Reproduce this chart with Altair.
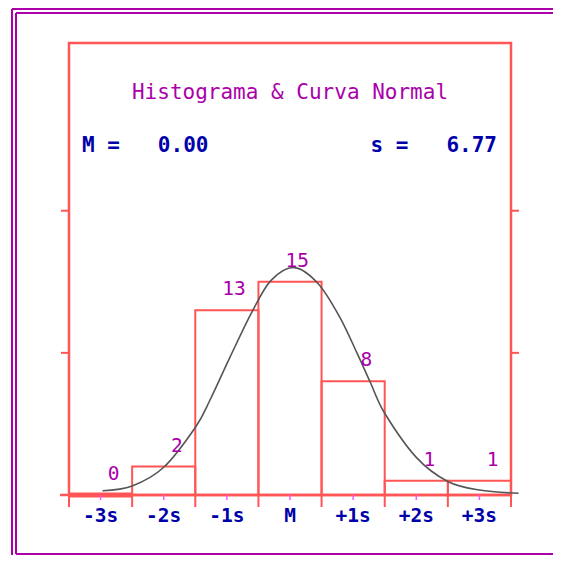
import altair as alt
import pandas as pd

# ---------------- data ----------------
CATEGORIES = ["-3s", "-2s", "-1s", "M", "+1s", "+2s", "+3s"]
SD_CENTERS = [-3, -2, -1, 0, 1, 2, 3]          # bin centres in sd units
COUNTS = [0, 2, 13, 15, 8, 1, 1]
Y_TICKS = [10, 20]
CURVE_Z = [-2.97, -2.5, -2.0, -1.5, -1.265, -0.95, -0.6, -0.3, 0.07,
           0.45, 0.79, 1.06, 1.27, 1.5, 2.0, 2.5, 3.0, 3.62]
CURVE_COUNT = [0.3, 0.63, 1.95, 4.75, 6.7, 9.7, 12.9, 15.1, 16.0,
               14.85, 12.5, 10.0, 7.95, 5.75, 2.65, 0.95, 0.35, 0.12]
TITLE = "Histograma & Curva Normal"
MEAN_TEXT = "M =\u00a0\u00a0\u00a00.00"
SD_TEXT = "s =\u00a0\u00a0\u00a06.77"

# ---------------- styling ----------------
MAGENTA = "#AA00AA"
LMAGENTA = "#FF55FF"
BLUE = "#0000AA"
RED = "#FF5555"
GRAY = "#555555"
FONT = "DejaVu Sans Mono"
W, H = 442, 452

bins = pd.DataFrame({
    "cat": CATEGORIES,
    "center": SD_CENTERS,
    "count": COUNTS,
})
bins["lo"] = bins["center"] - 0.5
bins["hi"] = bins["center"] + 0.5
bins["base"] = 0
edges = pd.DataFrame({"edge": [c - 0.5 for c in SD_CENTERS] + [SD_CENTERS[-1] + 0.5]})
yt = pd.DataFrame({"v": Y_TICKS})
curve = pd.DataFrame({"z": CURVE_Z, "n": CURVE_COUNT})
one = pd.DataFrame({"base": [0]})

xs = alt.Scale(domain=[-3.5, 3.5], nice=False, zero=False)
ys = alt.Scale(domain=[0, 31.8], nice=False, zero=False)


def X(f):
    return alt.X(f, type="quantitative", scale=xs, axis=None)


def Y(f):
    return alt.Y(f, type="quantitative", scale=ys, axis=None)


def frame_line(x1, x2, y1, y2):
    return alt.Chart(one).mark_rule(color=MAGENTA, strokeWidth=2).encode(
        x=alt.value(x1), x2=alt.value(x2), y=alt.value(y1), y2=alt.value(y2))


frame = (
    frame_line(-57, 484, -34, -34)
    + frame_line(-53, 484, -30, -30)
    + frame_line(-57, -57, -34, 513)
    + frame_line(-53, -53, -30, 511)
    + frame_line(-53, 484, 511, 511)
)

bars = alt.Chart(bins).mark_rect(filled=False, color=RED, strokeWidth=2).encode(
    x=X("lo"), x2="hi", y=Y("base"), y2="count")

baseline = alt.Chart(one).mark_rule(color=RED, strokeWidth=2.5).encode(
    x=alt.value(-9), x2=alt.value(W), y=Y("base"))

zero_bins = alt.Chart(bins).transform_filter("datum.count == 0").mark_rule(
    color=RED, strokeWidth=5).encode(x=X("lo"), x2="hi", y=Y("base"))

edge_ticks = alt.Chart(edges).mark_rule(color=RED, strokeWidth=2).encode(
    x=X("edge"), y=alt.value(H), y2=alt.value(H + 12))

center_ticks = alt.Chart(bins).mark_rule(color=LMAGENTA, strokeWidth=1.5).encode(
    x=X("center"), y=alt.value(H), y2=alt.value(H + 5))

ytick_l = alt.Chart(yt).mark_rule(color=RED, strokeWidth=2).encode(
    x=alt.value(-8), x2=alt.value(0), y=Y("v"))
ytick_r = alt.Chart(yt).mark_rule(color=RED, strokeWidth=2).encode(
    x=alt.value(W), x2=alt.value(W + 8), y=Y("v"))

curve_line = alt.Chart(curve).mark_line(
    color=GRAY, strokeWidth=1.6, interpolate="cardinal").encode(
    x=X("z"), y=Y("n"))

count_labels = alt.Chart(bins).mark_text(
    font=FONT, fontSize=19.5, color=MAGENTA, align="right",
    baseline="alphabetic", dx=19, dy=-15).encode(
    x=X("center"), y=Y("count"), text="count:Q")

x_labels = alt.Chart(bins).mark_text(
    font=FONT, fontSize=19.5, fontWeight="bold", color=BLUE, align="center",
    baseline="alphabetic").encode(
    x=X("center"), y=alt.value(H + 27), text="cat:N")

title = alt.Chart(one).mark_text(
    font=FONT, fontSize=21, color=MAGENTA, align="center",
    baseline="alphabetic").encode(
    x=alt.value(W / 2), y=alt.value(56), text=alt.value(TITLE))

mean_t = alt.Chart(one).mark_text(
    font=FONT, fontSize=21, fontWeight="bold", color=BLUE, align="left",
    baseline="alphabetic").encode(
    x=alt.value(13), y=alt.value(109), text=alt.value(MEAN_TEXT))

sd_t = alt.Chart(one).mark_text(
    font=FONT, fontSize=21, fontWeight="bold", color=BLUE, align="right",
    baseline="alphabetic").encode(
    x=alt.value(428), y=alt.value(109), text=alt.value(SD_TEXT))

chart = alt.layer(
    frame, bars, baseline, zero_bins, edge_ticks, center_ticks,
    ytick_l, ytick_r, curve_line, count_labels, x_labels, title, mean_t, sd_t
).properties(
    width=W, height=H,
    padding={"left": 61, "top": 35, "right": 42, "bottom": 60},
    autosize=alt.AutoSizeParams(type="none"),
    background="white",
).configure_view(stroke=RED, strokeWidth=2.5)

chart.save("out.html", embed_options={"renderer": "svg", "actions": False})
